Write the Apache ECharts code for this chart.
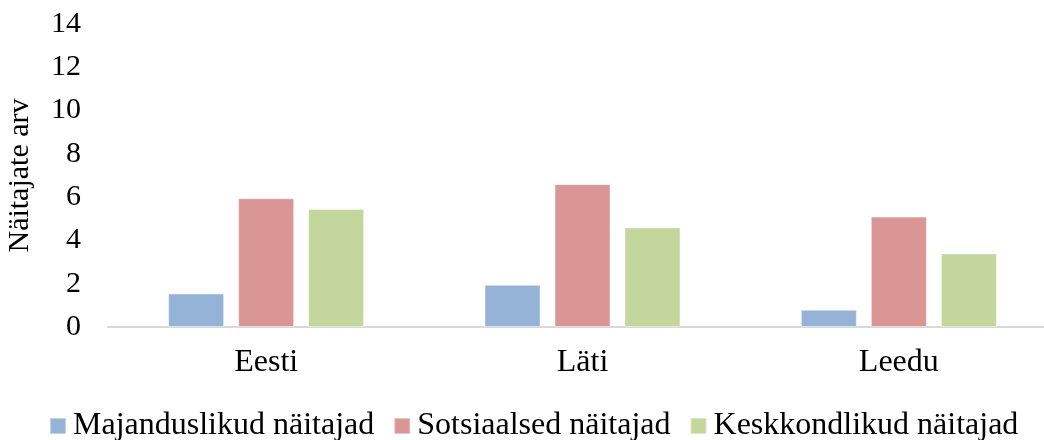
<!DOCTYPE html>
<html>
<head>
<meta charset="utf-8">
<script src="https://cdn.jsdelivr.net/npm/echarts@6/dist/echarts.min.js"></script>
<style>
html,body{margin:0;padding:0;background:#fff;}
#chart{width:1044px;height:440px;}
</style>
</head>
<body>
<div id="chart"></div>
<script>
const categories = ['Eesti', 'Läti', 'Leedu'];
const seriesNames = ['Majanduslikud näitajad', 'Sotsiaalsed näitajad', 'Keskkondlikud näitajad'];
const majanduslikud = [1.55, 1.95, 0.8];
const sotsiaalsed = [5.95, 6.6, 5.1];
const keskkondlikud = [5.45, 4.6, 3.4];
const colors = ['#95b3d7', '#d99694', '#c3d69b'];
const yAxisName = 'Näitajate arv';

const font = '"Liberation Serif", "Times New Roman", serif';
const chart = echarts.init(document.getElementById('chart'), null, {renderer: 'canvas'});
const values = [majanduslikud, sotsiaalsed, keskkondlikud];
chart.setOption({
  animation: false,
  textStyle: {fontFamily: font, color: '#000'},
  grid: {left: 108, top: 24, width: 949, height: 303, containLabel: false, outerBoundsMode: 'none'},
  legend: {
    left: 44, top: 405,
    itemWidth: 16, itemHeight: 16, itemGap: 19,
    icon: 'rect',
    textStyle: {fontFamily: font, fontSize: 32, color: '#000', padding: [0, 0, 0, 2]},
    data: seriesNames
  },
  xAxis: {
    type: 'category',
    data: categories,
    axisLine: {show: true, lineStyle: {color: '#d9d9d9', width: 2}},
    axisTick: {show: false},
    axisLabel: {fontFamily: font, fontSize: 32, color: '#000', margin: 20}
  },
  yAxis: {
    type: 'value',
    min: 0, max: 14, interval: 2,
    name: yAxisName,
    nameLocation: 'middle',
    nameGap: 73,
    nameTextStyle: {fontFamily: font, fontSize: 30, color: '#000'},
    axisLine: {show: false},
    axisTick: {show: false},
    splitLine: {show: false},
    axisLabel: {fontFamily: font, fontSize: 30, color: '#000', margin: 27}
  },
  series: values.map((v, i) => ({
    name: seriesNames[i],
    type: 'bar',
    data: v,
    barWidth: 56,
    barGap: '25%',
    itemStyle: {color: colors[i], borderColor: 'rgba(255,255,255,0.45)', borderWidth: 1}
  }))
});
</script>
</body>
</html>
